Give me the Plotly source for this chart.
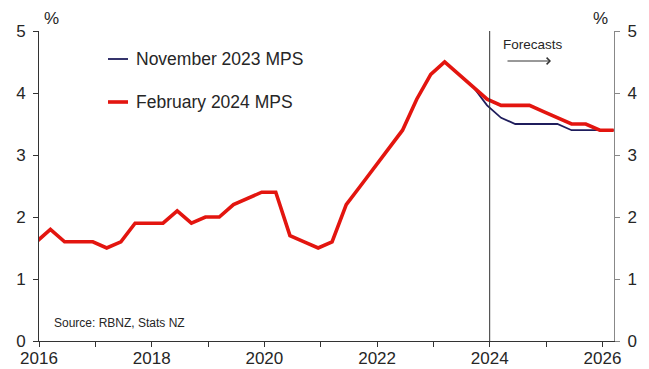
import plotly.graph_objects as go

quarters = [
    "2015-12-15",
    "2016-03-15", "2016-06-15", "2016-09-15", "2016-12-15",
    "2017-03-15", "2017-06-15", "2017-09-15", "2017-12-15",
    "2018-03-15", "2018-06-15", "2018-09-15", "2018-12-15",
    "2019-03-15", "2019-06-15", "2019-09-15", "2019-12-15",
    "2020-03-15", "2020-06-15", "2020-09-15", "2020-12-15",
    "2021-03-15", "2021-06-15", "2021-09-15", "2021-12-15",
    "2022-03-15", "2022-06-15", "2022-09-15", "2022-12-15",
    "2023-03-15", "2023-06-15", "2023-09-15", "2023-12-15",
    "2024-03-15", "2024-06-15", "2024-09-15", "2024-12-15",
    "2025-03-15", "2025-06-15", "2025-09-15", "2025-12-15",
    "2026-03-15",
]

feb_2024 = [
    1.6,
    1.8, 1.6, 1.6, 1.6,
    1.5, 1.6, 1.9, 1.9,
    1.9, 2.1, 1.9, 2.0,
    2.0, 2.2, 2.3, 2.4,
    2.4, 1.7, 1.6, 1.5,
    1.6, 2.2, 2.5, 2.8,
    3.1, 3.4, 3.9, 4.3,
    4.5, 4.3, 4.1, 3.9,
    3.8, 3.8, 3.8, 3.7,
    3.6, 3.5, 3.5, 3.4,
    3.4,
]

nov_2023 = [
    1.6,
    1.8, 1.6, 1.6, 1.6,
    1.5, 1.6, 1.9, 1.9,
    1.9, 2.1, 1.9, 2.0,
    2.0, 2.2, 2.3, 2.4,
    2.4, 1.7, 1.6, 1.5,
    1.6, 2.2, 2.5, 2.8,
    3.1, 3.4, 3.9, 4.3,
    4.5, 4.3, 4.1, 3.8,
    3.6, 3.5, 3.5, 3.5,
    3.5, 3.4, 3.4, 3.4,
    3.4,
]

year_ticks = [str(y) for y in range(2016, 2027)]
year_labels = [y if int(y) % 2 == 0 else "" for y in year_ticks]
y_ticks = [0, 1, 2, 3, 4, 5]

RED = "#e3150f"
NAVY = "#1f1d5c"
TXT = "#262626"
FONT = "Liberation Sans, Arial, sans-serif"

fig = go.Figure()
fig.add_trace(go.Scatter(x=quarters, y=nov_2023, mode="lines",
                         line=dict(color=NAVY, width=1.8), showlegend=False))
fig.add_trace(go.Scatter(x=quarters, y=feb_2024, mode="lines",
                         line=dict(color=RED, width=3.6), showlegend=False))
# invisible trace to carry the right-hand axis
fig.add_trace(go.Scatter(x=[quarters[1]], y=[0], yaxis="y2", mode="markers",
                         marker=dict(opacity=0), showlegend=False, hoverinfo="skip"))

fig.update_layout(
    width=649, height=369,
    margin=dict(l=39, r=35, t=31, b=28),
    paper_bgcolor="white", plot_bgcolor="white",
    font=dict(family=FONT, color=TXT, size=17),
    xaxis=dict(
        type="date",
        range=["2016-01-01", "2026-03-17"],
        tickmode="array",
        tickvals=[y + "-01-01" for y in year_ticks],
        ticktext=year_labels,
        ticks="outside", ticklen=5, tickcolor="#333333", tickwidth=1,
        showline=True, linecolor="#333333", linewidth=1,
        showgrid=False, zeroline=False, automargin=False,
        tickfont=dict(size=17, color=TXT),
        ticklabelstandoff=-3,
    ),
    yaxis=dict(
        range=[0, 5], tickvals=y_ticks,
        ticks="outside", ticklen=5, tickcolor="#333333", tickwidth=1,
        showline=True, linecolor="#333333", linewidth=1,
        showgrid=False, zeroline=False, automargin=False,
        tickfont=dict(size=17, color=TXT),
        ticklabelstandoff=4,
    ),
    yaxis2=dict(
        range=[0, 5], tickvals=y_ticks, overlaying="y", side="right",
        ticks="outside", ticklen=5, tickcolor="#888888", tickwidth=1,
        showline=True, linecolor="#888888", linewidth=1,
        showgrid=False, zeroline=False, automargin=False,
        tickfont=dict(size=17, color=TXT),
        ticklabelstandoff=4,
    ),
)

# Forecast divider
fig.add_shape(type="line", xref="x", yref="y", x0="2024-01-01", x1="2024-01-01",
              y0=0, y1=5, line=dict(color="#333333", width=1))

def px_x(px):
    return (px - 39) / 575

def px_y(py):
    return (341 - py) / 310

# Manual legend
for py, col, w, label in [(59, NAVY, 1.8, "November 2023 MPS"),
                          (102, RED, 3.6, "February 2024 MPS")]:
    fig.add_shape(type="line", xref="paper", yref="paper",
                  x0=px_x(108), x1=px_x(128), y0=px_y(py), y1=px_y(py),
                  line=dict(color=col, width=w))
    fig.add_annotation(xref="paper", yref="paper", x=px_x(134), y=px_y(py),
                       text=label, showarrow=False, xanchor="left", yanchor="middle",
                       font=dict(size=17.5, color=TXT))

# Axis unit labels
fig.add_annotation(xref="paper", yref="paper", x=px_x(51), y=px_y(19), text="%",
                   showarrow=False, xanchor="center", yanchor="middle", font=dict(size=17))
fig.add_annotation(xref="paper", yref="paper", x=px_x(600), y=px_y(19), text="%",
                   showarrow=False, xanchor="center", yanchor="middle", font=dict(size=17))

# Forecasts label and arrow
fig.add_annotation(xref="paper", yref="paper", x=px_x(533), y=px_y(44), text="Forecasts",
                   showarrow=False, xanchor="center", yanchor="middle", font=dict(size=13.5))
fig.add_annotation(xref="paper", yref="paper", x=px_x(551), y=px_y(61), text="",
                   showarrow=True, axref="pixel", ayref="pixel", ax=-45, ay=0,
                   arrowhead=4, arrowsize=1.3, arrowwidth=1, arrowcolor="#333333")

# Source
fig.add_annotation(xref="paper", yref="paper", x=px_x(52), y=px_y(323),
                   text="Source: RBNZ, Stats NZ", showarrow=False,
                   xanchor="left", yanchor="middle", font=dict(size=12))

fig.write_html("out.html")
